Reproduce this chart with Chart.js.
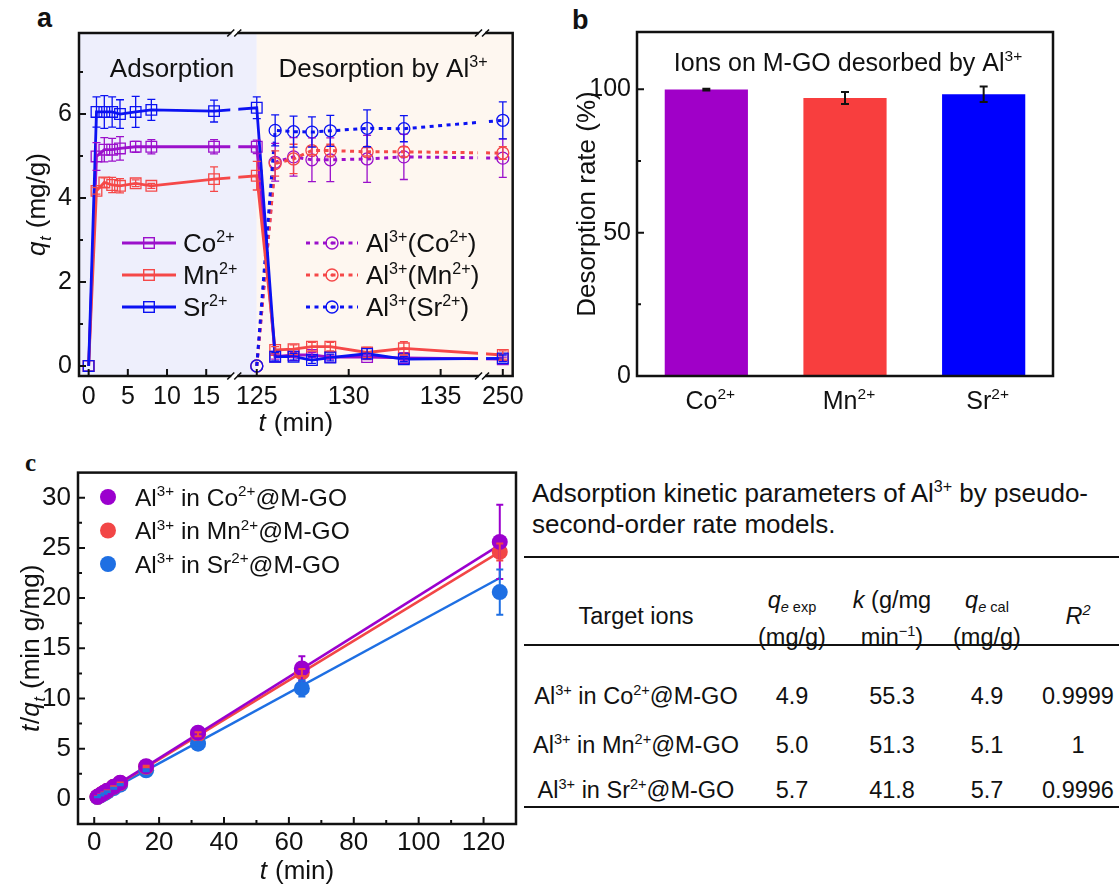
<!DOCTYPE html>
<html lang="en"><head><meta charset="utf-8"><title>Al3+ desorption of metal ions from M-GO</title>
<script src="https://cdn.jsdelivr.net/npm/chart.js@4.4.1/dist/chart.umd.min.js"></script>
<style>
html,body{margin:0;padding:0;background:#fff}
body{position:relative;width:1119px;height:885px;overflow:hidden;font-family:"Liberation Sans",Arial,Helvetica,sans-serif;color:#111}
canvas{position:absolute;display:block}
.pl{position:absolute;line-height:1;font-weight:bold;white-space:nowrap}
.tc{position:absolute;line-height:1;white-space:nowrap;transform:translate(-50%,-50%);font-size:23.5px}
.tl{position:absolute;line-height:1;white-space:nowrap;transform:translate(0,-50%);font-size:26px}
.rule{position:absolute;left:524px;width:595px;background:#111}
sup,sub{font-size:62%;line-height:0;position:relative;vertical-align:baseline}
sup{top:-0.6em} sub{top:0.3em}
</style></head><body>
<div class="pl" style="left:37px;top:5px;font-size:27px">a</div>
<div class="pl" style="left:572px;top:7px;font-size:27px">b</div>
<div class="pl" style="left:25px;top:450px;font-size:25px;font-family:'Liberation Serif',serif">c</div>
<canvas id="ca" width="530" height="440" style="left:0;top:0;width:530px;height:440px"></canvas>
<canvas id="cb" width="589" height="440" style="left:530px;top:0;width:589px;height:440px"></canvas>
<canvas id="cc" width="520" height="435" style="left:0;top:450px;width:520px;height:435px"></canvas>
<div id="tbl"></div>
<script>
// ================= DATA =================
// ---- panel a : q_t (mg/g) vs t (min) ----
const tA   = [0,1,2,3,4,6,8,16,125,126,127,128,129,131,133,250];
const qCo  = [0,4.99,5.15,5.15,5.18,5.22,5.22,5.22,5.22,0.22,0.26,0.26,0.21,0.21,0.19,0.16];
const qMn  = [0,4.17,4.37,4.31,4.29,4.35,4.29,4.45,4.53,0.38,0.40,0.46,0.46,0.32,0.42,0.26];
const qSr  = [0,6.05,6.05,6.05,6.00,6.05,6.10,6.07,6.15,0.22,0.22,0.14,0.20,0.29,0.16,0.18];
const eCo  = [0,0.33,0.29,0.27,0.28,0.13,0.17,0.17,0.16,0.06,0.06,0.06,0.05,0.06,0.05,0.05];
const eMn  = [0,0.08,0.11,0.18,0.17,0.08,0.06,0.29,0.34,0.08,0.10,0.10,0.10,0.12,0.16,0.10];
const eSr  = [0,0.36,0.39,0.36,0.34,0.37,0.25,0.26,0.26,0.10,0.08,0.08,0.08,0.12,0.06,0.08];
const tD   = [125,126,127,128,129,131,133,250];
const alCo = [0,4.85,4.98,4.91,4.91,4.93,4.98,4.95];
const alMn = [0,4.82,4.93,5.13,5.13,5.10,5.10,5.07];
const alSr = [0,5.61,5.58,5.57,5.60,5.66,5.65,5.85];
const eAlCo= [0,0.45,0.46,0.52,0.52,0.56,0.54,0.46];
const eAlMn= [0,0.30,0.35,0.10,0.15,0.10,0.12,0.15];
const eAlSr= [0,0.37,0.37,0.36,0.37,0.44,0.31,0.44];
const seriesA = ['Co^{2+}','Mn^{2+}','Sr^{2+}','Al^{3+}(Co^{2+})','Al^{3+}(Mn^{2+})','Al^{3+}(Sr^{2+})'];
const xTicksA = [0,5,10,15,125,130,135,250];
const yTicksA = [0,2,4,6];
const yMinorA = [1,3,5,7];
const phaseA  = ['Adsorption','Desorption by Al^{3+}'];

// ---- panel b : desorption rate (%) ----
const ionsB  = ['Co^{2+}','Mn^{2+}','Sr^{2+}'];
const rateB  = [99.9,97.0,98.3];
const errB   = [0.3,2.1,2.7];
const yTicksB= [0,50,100];
const yMinorB= [25,75];
const titleB = 'Ions on M-GO desorbed by Al^{3+}';

// ---- panel c : t/q_t vs t ----
const tC   = [1,2,3,4,6,8,16,32,64,125];
const cCo  = [0.21,0.41,0.62,0.82,1.22,1.62,3.25,6.6,13.0,25.6];
const cMn  = [0.21,0.41,0.61,0.80,1.20,1.58,3.20,6.45,12.6,24.6];
const cSr  = [0.18,0.36,0.54,0.72,1.07,1.42,2.85,5.5,11.0,20.6];
const ecCo = [0.02,0.03,0.04,0.05,0.07,0.09,0.15,0.35,1.2,3.7];
const ecMn = [0.02,0.03,0.03,0.04,0.05,0.06,0.10,0.20,0.35,0.85];
const ecSr = [0.02,0.02,0.03,0.04,0.05,0.06,0.10,0.20,0.8,2.25];
const fitT = [1,125];
const fitCo= [0.2,25.3];
const fitMn= [0.2,24.6];
const fitSr= [0.2,22.0];
const seriesC = ['Al^{3+} in Co^{2+}@M-GO','Al^{3+} in Mn^{2+}@M-GO','Al^{3+} in Sr^{2+}@M-GO'];
const xTicksC = [0,20,40,60,80,100,120];
const xMinorC = [10,30,50,70,90,110];
const yTicksC = [0,5,10,15,20,25,30];
const yMinorC = [2.5,7.5,12.5,17.5,22.5,27.5];

// ---- table ----
const tableTitle = ['Adsorption kinetic parameters of Al^{3+} by pseudo-','second-order rate models.'];
const tableHead  = [['Target ions'],['*q*_{*e* exp}','(mg/g)'],['*k* (g/mg','min^{\u22121})'],['*q*_{*e* cal}','(mg/g)'],['*R*^{*2*}']];
const tableRows  = [
  ['Al^{3+} in Co^{2+}@M-GO','4.9','55.3','4.9','0.9999'],
  ['Al^{3+} in Mn^{2+}@M-GO','5.0','51.3','5.1','1'],
  ['Al^{3+} in Sr^{2+}@M-GO','5.7','41.8','5.7','0.9996']
];

// ================= STYLE / HELPERS =================
const FONT = '"Liberation Sans", Arial, Helvetica, sans-serif';
const INK = '#111';
Chart.defaults.font.family = FONT;
Chart.defaults.color = INK;
const colA = {Co:'#9B10CB', Mn:'#F54848', Sr:'#0B12F2'};
const colB = ['#A000C8','#F83E3E','#0000FE'];
const colC = {Co:'#9B00CE', Mn:'#F24646', Sr:'#1E6FE3'};
const BG_L = '#EEEFFC', BG_R = '#FEF7F0';

// broken time axis of panel a (three segments on one linear scale)
function axA(t){ if(t<=60) return t; if(t<=200) return 21.45+(t-125)*2.346; return 52.84+(t-250); }
const breaksA = [18.58, 50.19];

function parseRich(s){
  const segs=[]; let it=false, mode='', buf='';
  const push=()=>{ if(buf){ segs.push({t:buf,it,mode}); buf=''; } };
  for(let i=0;i<s.length;i++){
    const c=s[i];
    if(c==='*'){ push(); it=!it; continue; }
    if((c==='^'||c==='_')&&s[i+1]==='{'){ push(); mode=(c==='^')?'sup':'sub'; i++; continue; }
    if(c==='}'&&mode){ push(); mode=''; continue; }
    buf+=c;
  }
  push(); return segs;
}
function drawRich(ctx,s,x,y,o={}){
  const size=o.size||24, fam=o.family||FONT, wt=o.weight||'normal';
  const segs=parseRich(s);
  ctx.save(); ctx.translate(x,y); if(o.rotate) ctx.rotate(o.rotate);
  ctx.textBaseline='alphabetic'; ctx.textAlign='left'; ctx.fillStyle=o.color||INK;
  let w=0;
  const items=segs.map(g=>{ const sz=g.mode?size*0.62:size; const f=(g.it?'italic ':'')+wt+' '+sz+'px '+fam; ctx.font=f; const ww=ctx.measureText(g.t).width+(g.it?size*0.03:0); w+=ww; return {g,f,ww}; });
  let cx=o.align==='center'?-w/2:(o.align==='right'?-w:0);
  const base=size*0.36;
  for(const it of items){ ctx.font=it.f; let dy=base; if(it.g.mode==='sup') dy=base-size*0.40; else if(it.g.mode==='sub') dy=base+size*0.2; ctx.fillText(it.g.t,cx,dy); cx+=it.ww; }
  ctx.restore();
}
function richHTML(s){ return s.replace(/\*([^*]+)\*/g,'<i>$1</i>').replace(/\^\{([^}]*)\}/g,'<sup>$1</sup>').replace(/_\{([^}]*)\}/g,'<sub>$1</sub>'); }
function frame(ctx,a,lw){ ctx.save(); ctx.strokeStyle=INK; ctx.lineWidth=lw; ctx.strokeRect(a.left,a.top,a.right-a.left,a.bottom-a.top); ctx.restore(); }
function ticksX(ctx,a,s,vals,len){ ctx.save(); ctx.strokeStyle=INK; ctx.lineWidth=2; ctx.beginPath(); vals.forEach(v=>{const p=s.getPixelForValue(v); ctx.moveTo(p,a.bottom); ctx.lineTo(p,a.bottom-len);}); ctx.stroke(); ctx.restore(); }
function ticksY(ctx,a,s,vals,len){ ctx.save(); ctx.strokeStyle=INK; ctx.lineWidth=2; ctx.beginPath(); vals.forEach(v=>{const p=s.getPixelForValue(v); ctx.moveTo(a.left,p); ctx.lineTo(a.left+len,p);}); ctx.stroke(); ctx.restore(); }
function breakMark(ctx,p,yy){ ctx.save(); ctx.fillStyle='#fff'; ctx.fillRect(p-3,yy-2.5,6,5); ctx.strokeStyle=INK; ctx.lineWidth=1.6; ctx.beginPath(); [-3.5,3.5].forEach(d=>{ ctx.moveTo(p+d-3.5,yy+3.5); ctx.lineTo(p+d+3.5,yy-3.5); }); ctx.stroke(); ctx.restore(); }

const errorBars={ id:'errorBars', afterDatasetsDraw(chart){
  const ctx=chart.ctx, ys=chart.scales.y;
  chart.data.datasets.forEach((ds,di)=>{
    if(!ds.errors) return;
    const meta=chart.getDatasetMeta(di);
    ctx.save(); ctx.strokeStyle=ds.errorColor||ds.borderColor; ctx.lineWidth=ds.errorWidth||1.3; ctx.setLineDash([]);
    const cap=ds.errorCap||4;
    meta.data.forEach((el,i)=>{
      const e=ds.errors[i]; if(!e) return;
      const d=ds.data[i]; const v=(typeof d==='object')?d.y:d;
      const y1=ys.getPixelForValue(v+e), y2=ys.getPixelForValue(v-e), x=el.x;
      ctx.beginPath(); ctx.moveTo(x,y1); ctx.lineTo(x,y2);
      ctx.moveTo(x-cap,y1); ctx.lineTo(x+cap,y1); ctx.moveTo(x-cap,y2); ctx.lineTo(x+cap,y2); ctx.stroke();
    });
    ctx.restore();
  });
}};

const baseOpts=(pad)=>({responsive:false,animation:false,devicePixelRatio:1,events:[],
  layout:{autoPadding:false,padding:pad},plugins:{legend:{display:false},tooltip:{enabled:false},title:{display:false}}});

// ================= PANEL A =================
const mkA=(label,ts,ys,es,color,dotted,ord)=>({label,order:ord,
  data:ts.map((t,i)=>({x:axA(t),y:ys[i]})),errors:es,errorWidth:1.3,errorCap:4,
  borderColor:color,backgroundColor:'rgba(0,0,0,0)',borderWidth:dotted?3:2.8,borderDash:dotted?[4,4.5]:[],
  pointStyle:dotted?'circle':'rect',pointRadius:dotted?6:7.5,pointBorderWidth:1.3,
  pointBorderColor:color,pointBackgroundColor:'rgba(0,0,0,0)',tension:0,fill:false});

const bgA={id:'bgA',beforeDatasetsDraw(chart){
  const {ctx,chartArea:a,scales:{x}}=chart; const xb=x.getPixelForValue(axA(125));
  ctx.save(); ctx.fillStyle=BG_L; ctx.fillRect(a.left,a.top,xb-a.left,a.bottom-a.top);
  ctx.fillStyle=BG_R; ctx.fillRect(xb,a.top,a.right-xb,a.bottom-a.top); ctx.restore();
}};
const decorA={id:'decorA',afterDatasetsDraw(chart){
  const {ctx,chartArea:a,scales:{x,y}}=chart; const xb=x.getPixelForValue(axA(125));
  breaksA.forEach(u=>{ const p=x.getPixelForValue(u); ctx.save(); ctx.fillStyle=p<xb?BG_L:BG_R; ctx.fillRect(p-4,a.top+2,8,a.bottom-a.top-4); ctx.restore(); });
  frame(ctx,a,2.5);
  ticksX(ctx,a,x,xTicksA.map(axA),7); ticksY(ctx,a,y,yTicksA,7); ticksY(ctx,a,y,yMinorA,4);
  breaksA.forEach(u=>{ const p=x.getPixelForValue(u); breakMark(ctx,p,a.top); breakMark(ctx,p,a.bottom); });
  drawRich(ctx,phaseA[0],172,68,{size:26,align:'center'});
  drawRich(ctx,phaseA[1],383,68,{size:26,align:'center'});
  drawRich(ctx,'*t* (min)',(a.left+a.right)/2,422,{size:26,align:'center'});
  drawRich(ctx,'*q*_{*t*} (mg/g)',36,(a.top+a.bottom)/2,{size:26,align:'center',rotate:-Math.PI/2});
  chart.data.datasets.forEach((ds,i)=>{
    const col=i<3?0:1, row=i%3;
    const x1=col?306:122, x2=col?358:176, yy=243+row*32, xm=(x1+x2)/2;
    ctx.save(); ctx.strokeStyle=ds.borderColor; ctx.lineWidth=ds.borderWidth; ctx.setLineDash(ds.borderDash);
    ctx.beginPath(); ctx.moveTo(x1,yy); ctx.lineTo(x2,yy); ctx.stroke(); ctx.setLineDash([]); ctx.lineWidth=1.4;
    if(ds.pointStyle==='rect'){ const h=ds.pointRadius*Math.SQRT1_2; ctx.strokeRect(xm-h,yy-h,2*h,2*h); }
    else { ctx.beginPath(); ctx.arc(xm,yy,ds.pointRadius,0,2*Math.PI); ctx.stroke(); ctx.fillStyle=ds.borderColor; ctx.beginPath(); ctx.arc(xm,yy,1.6,0,2*Math.PI); ctx.fill(); }
    ctx.restore();
    drawRich(ctx,ds.label,col?366:183,yy,{size:26});
  });
}};
new Chart(document.getElementById('ca'),{type:'line',
  data:{datasets:[
    mkA(seriesA[0],tA,qCo,eCo,colA.Co,false,2),
    mkA(seriesA[1],tA,qMn,eMn,colA.Mn,false,1),
    mkA(seriesA[2],tA,qSr,eSr,colA.Sr,false,0),
    mkA(seriesA[3],tD,alCo,eAlCo,colA.Co,true,5),
    mkA(seriesA[4],tD,alMn,eAlMn,colA.Mn,true,4),
    mkA(seriesA[5],tD,alSr,eAlSr,colA.Sr,true,3)]},
  options:Object.assign(baseOpts({left:0,top:33,right:15,bottom:0}),{scales:{
    x:{type:'linear',min:-1.23,max:54.1,afterBuildTicks:s=>{s.ticks=xTicksA.map(t=>({value:axA(t)}));},
       ticks:{autoSkip:false,maxRotation:0,padding:6,font:{size:25},color:INK,callback:(v,i)=>String(xTicksA[i])},
       grid:{display:false,drawTicks:false},border:{display:false},afterFit:s=>{s.height=64;}},
    y:{type:'linear',min:-0.24,max:7.93,afterBuildTicks:s=>{s.ticks=yTicksA.map(v=>({value:v}));},
       ticks:{padding:7,font:{size:25},color:INK},grid:{display:false,drawTicks:false},border:{display:false},afterFit:s=>{s.width=79;}}}}),
  plugins:[bgA,errorBars,decorA]});

// ================= PANEL B =================
const decorB={id:'decorB',afterDatasetsDraw(chart){
  const {ctx,chartArea:a,scales:{x,y}}=chart;
  frame(ctx,a,2.5);
  ticksY(ctx,a,y,yTicksB,7); ticksY(ctx,a,y,yMinorB,4);
  ionsB.forEach((lab,i)=>drawRich(ctx,lab,x.getPixelForValue(i)+4,400,{size:25,align:'center'}));
  drawRich(ctx,titleB,(a.left+a.right)/2+3,62,{size:25,align:'center'});
  drawRich(ctx,'Desorption rate (%)',56,(a.top+a.bottom)/2,{size:26,align:'center',rotate:-Math.PI/2});
}};
new Chart(document.getElementById('cb'),{type:'bar',
  data:{labels:ionsB,datasets:[{data:rateB,errors:errB,errorColor:INK,errorWidth:2,errorCap:4,
    backgroundColor:colB,borderWidth:0,barPercentage:0.6,categoryPercentage:1}]},
  options:Object.assign(baseOpts({left:0,top:32,right:66,bottom:0}),{scales:{
    x:{grid:{display:false,drawTicks:false},border:{display:false},ticks:{display:false},afterFit:s=>{s.height=64;}},
    y:{min:0,max:120,afterBuildTicks:s=>{s.ticks=yTicksB.map(v=>({value:v}));},
       ticks:{padding:6,font:{size:25},color:INK},grid:{display:false,drawTicks:false},border:{display:false},afterFit:s=>{s.width=107;}}}}),
  plugins:[errorBars,decorB]});

// ================= PANEL C =================
const mkPts=(label,ys,es,color)=>({label,order:0,data:tC.map((t,i)=>({x:t,y:ys[i]})),errors:es,errorWidth:2,errorCap:3.5,
  showLine:false,pointRadius:8,pointBorderWidth:0,pointBackgroundColor:color,borderColor:color,backgroundColor:color});
const mkFit=(ys,color)=>({order:1,data:fitT.map((t,i)=>({x:t,y:ys[i]})),showLine:true,borderColor:color,borderWidth:2.5,pointRadius:0,fill:false,tension:0});
const decorC={id:'decorC',afterDatasetsDraw(chart){
  const {ctx,chartArea:a,scales:{x,y}}=chart;
  frame(ctx,a,2.5);
  ticksX(ctx,a,x,xTicksC,7); ticksX(ctx,a,x,xMinorC,4);
  ticksY(ctx,a,y,yTicksC,7); ticksY(ctx,a,y,yMinorC,4);
  drawRich(ctx,'*t* (min)',(a.left+a.right)/2,420,{size:26,align:'center'});
  drawRich(ctx,'*t*/*q*_{*t*} (min g/mg)',30,(a.top+a.bottom)/2,{size:26,align:'center',rotate:-Math.PI/2});
  chart.data.datasets.filter(d=>d.label).forEach((ds,i)=>{
    const yy=47+i*33.5;
    ctx.save(); ctx.fillStyle=ds.pointBackgroundColor; ctx.beginPath(); ctx.arc(108,yy,8,0,2*Math.PI); ctx.fill(); ctx.restore();
    drawRich(ctx,ds.label,135,yy,{size:24.5});
  });
}};
new Chart(document.getElementById('cc'),{type:'scatter',
  data:{datasets:[
    mkPts(seriesC[0],cCo,ecCo,colC.Co), mkPts(seriesC[1],cMn,ecMn,colC.Mn), mkPts(seriesC[2],cSr,ecSr,colC.Sr),
    mkFit(fitCo,colC.Co), mkFit(fitMn,colC.Mn), mkFit(fitSr,colC.Sr)]},
  options:Object.assign(baseOpts({left:0,top:22,right:4,bottom:0}),{scales:{
    x:{type:'linear',min:-5,max:130,afterBuildTicks:s=>{s.ticks=xTicksC.map(v=>({value:v}));},
       ticks:{autoSkip:false,maxRotation:0,padding:3,font:{size:26},color:INK},grid:{display:false,drawTicks:false},border:{display:false},afterFit:s=>{s.height=61;}},
    y:{type:'linear',min:-2.5,max:32.5,afterBuildTicks:s=>{s.ticks=yTicksC.map(v=>({value:v}));},
       ticks:{padding:7,font:{size:26},color:INK},grid:{display:false,drawTicks:false},border:{display:false},afterFit:s=>{s.width=78;}}}}),
  plugins:[errorBars,decorC]});

// ================= TABLE =================
(function(){
  const cell=(x,y,s)=>`<div class="tc" style="left:${x}px;top:${y}px">${richHTML(s)}</div>`;
  const colX=[636,792,892,987,1078], rowY=[697,746,791];
  let h='';
  tableTitle.forEach((s,i)=>{ h+=`<div class="tl" style="left:532px;top:${493+i*31}px">${richHTML(s)}</div>`; });
  [557,645,807].forEach(y=>{ h+=`<div class="rule" style="top:${y-1}px;height:2px"></div>`; });
  tableHead.forEach((hd,c)=>{ if(hd.length===1) h+=cell(colX[c],617,hd[0]); else { h+=cell(colX[c],601,hd[0]); h+=cell(colX[c],638,hd[1]); } });
  tableRows.forEach((r,ri)=>r.forEach((v,c)=>{ h+=cell(colX[c],rowY[ri],v); }));
  document.getElementById('tbl').innerHTML=h;
})();
</script>
</body></html>
